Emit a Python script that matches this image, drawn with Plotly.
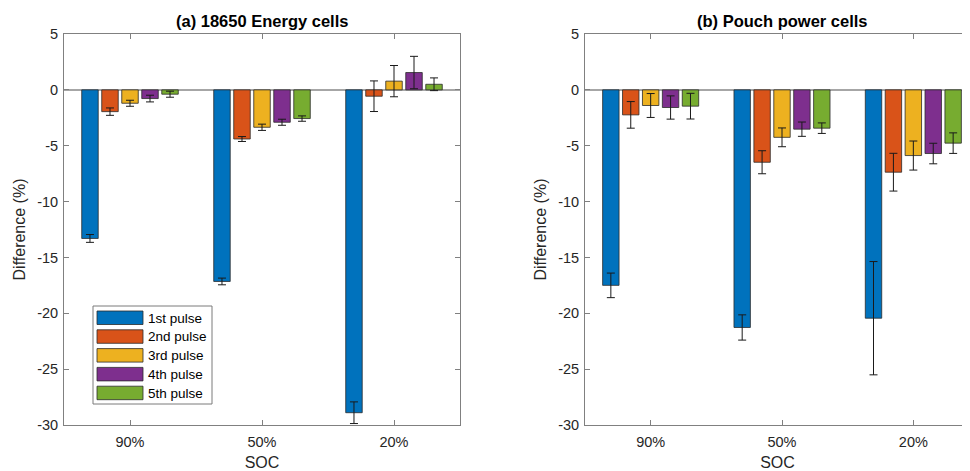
import plotly.graph_objects as go

# ---------------- data ----------------
soc_labels = ["90%", "50%", "20%"]
pulse_names = ["1st pulse", "2nd pulse", "3rd pulse", "4th pulse", "5th pulse"]
pulse_colors = ["#0072BD", "#D95319", "#EDB120", "#7E2F8E", "#77AC30"]

# (a) 18650 Energy cells: mean difference per pulse (rows) at each SOC (cols)
energy_mean = [
    [-13.3, -17.15, -28.9],
    [-1.95, -4.4, -0.57],
    [-1.2, -3.35, 0.78],
    [-0.78, -2.9, 1.55],
    [-0.39, -2.57, 0.5],
]
energy_err = [
    [0.35, 0.3, 0.97],
    [0.33, 0.22, 1.37],
    [0.27, 0.28, 1.4],
    [0.3, 0.27, 1.45],
    [0.27, 0.24, 0.57],
]

# (b) Pouch power cells
pouch_mean = [
    [-17.5, -21.27, -20.44],
    [-2.24, -6.48, -7.37],
    [-1.4, -4.25, -5.88],
    [-1.58, -3.52, -5.7],
    [-1.46, -3.43, -4.77],
]
pouch_err = [
    [1.1, 1.13, 5.07],
    [1.19, 1.03, 1.69],
    [1.07, 0.84, 1.3],
    [1.04, 0.64, 0.92],
    [1.15, 0.47, 0.92],
]

y_tickvals = [5, 0, -5, -10, -15, -20, -25, -30]
y_ticktext = ["5", "0", "-5", "-10", "-15", "-20", "-25", "-30"]
x_positions = [1, 2, 3]

# ---------------- figure ----------------
# the page body has an 8px margin, so the figure starts at (8, 8) in the window
OFF = 8
W, H = 970 - OFF, 471 - OFF
FONT = "Liberation Sans, Arial, sans-serif"
TXT = "#262626"
AX = "#808080"


def px(x):
    return (x - OFF) / W


def py(y):
    return 1 - (y - OFF) / H


fig = go.Figure()

for panel, (means, errs) in enumerate([(energy_mean, energy_err), (pouch_mean, pouch_err)]):
    xa = "x" if panel == 0 else "x2"
    ya = "y" if panel == 0 else "y2"
    for i, name in enumerate(pulse_names):
        fig.add_trace(go.Bar(
            x=x_positions, y=means[i], name=name,
            marker=dict(color=pulse_colors[i], line=dict(color="#2b2b2b", width=0.8)),
            error_y=dict(type="data", array=errs[i], visible=True,
                         color="#1a1a1a", thickness=1, width=4),
            xaxis=xa, yaxis=ya, showlegend=False, offsetgroup=str(i),
        ))

y_dom = [py(425), py(34)]
common_x = dict(
    tickvals=x_positions, ticktext=soc_labels, ticks="inside", ticklen=5,
    tickcolor=AX, showline=True, linecolor=AX, linewidth=1, showgrid=False,
    zeroline=False, tickfont=dict(family=FONT, size=14.5, color=TXT),
    ticklabelstandoff=4, automargin=False,
    title=dict(text="SOC", font=dict(family=FONT, size=16, color=TXT), standoff=10),
)
common_y = dict(
    range=[-30, 5], tickvals=y_tickvals, ticktext=y_ticktext, ticks="inside",
    ticklen=5, tickcolor=AX, showline=True, linecolor=AX, linewidth=1,
    showgrid=False, zeroline=True, zerolinecolor="#A6A6A6", zerolinewidth=1.5,
    tickfont=dict(family=FONT, size=14.5, color=TXT), domain=y_dom,
    ticklabelstandoff=2, automargin=False,
    title=dict(text="Difference (%)", font=dict(family=FONT, size=16, color=TXT), standoff=7),
)

right_px_per_unit = (979 - 585) / 3.0

fig.update_layout(
    width=W, height=H,
    margin=dict(l=0, r=0, t=0, b=0, autoexpand=False),
    paper_bgcolor="white", plot_bgcolor="white",
    barmode="group", bargap=0.242, bargroupgap=0.175,
    showlegend=False,
    xaxis=dict(common_x, domain=[px(64), px(460)], range=[0.5, 3.5], mirror="ticks", anchor="y"),
    yaxis=dict(common_y, mirror="ticks", anchor="x"),
    xaxis2=dict(common_x, domain=[px(585), 1.0],
                range=[0.5, 3.5 - (979 - 970) / right_px_per_unit], mirror="ticks", anchor="y2"),
    yaxis2=dict(common_y, mirror=False, anchor="x2"),
)

# panel titles
titles = ["(a) 18650 Energy cells", "(b) Pouch power cells"]
for t, cx in zip(titles, [262, 782]):
    fig.add_annotation(text="<b>" + t + "</b>", x=px(cx), y=py(21), xref="paper", yref="paper",
                       showarrow=False, xanchor="center", yanchor="middle",
                       font=dict(family=FONT, size=16.5, color="#000000"))

# custom legend (MATLAB style) in panel (a)
fig.add_shape(type="rect", xref="paper", yref="paper",
              x0=px(93), x1=px(212), y0=py(404), y1=py(306),
              line=dict(color="#7a7a7a", width=1), fillcolor="white", layer="above")
for i, name in enumerate(pulse_names):
    top = 311 + i * 18.8
    fig.add_shape(type="rect", xref="paper", yref="paper",
                  x0=px(97), x1=px(143), y0=py(top + 13.5), y1=py(top),
                  line=dict(color="#2b2b2b", width=0.8), fillcolor=pulse_colors[i], layer="above")
    fig.add_annotation(text=name, x=px(146), y=py(top + 7), xref="paper", yref="paper",
                       showarrow=False, xanchor="left", yanchor="middle",
                       font=dict(family=FONT, size=13.5, color="#000000"))

fig.write_html("out.html")
